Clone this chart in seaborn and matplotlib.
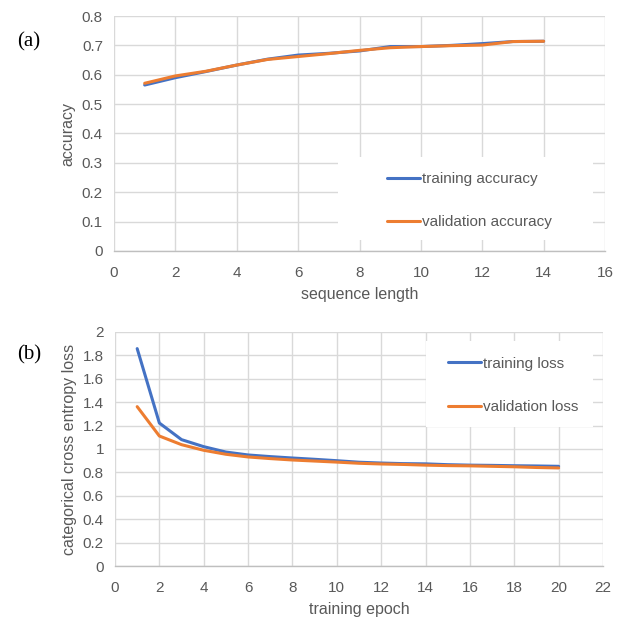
import matplotlib
matplotlib.use("Agg")
import matplotlib.pyplot as plt
from matplotlib.patches import Rectangle
from matplotlib.lines import Line2D
import seaborn as sns
import pandas as pd

seq_len = list(range(1, 15))
train_acc = [0.565, 0.590, 0.611, 0.633, 0.653, 0.667, 0.673, 0.681, 0.696, 0.696, 0.700, 0.706, 0.713, 0.714]
val_acc = [0.571, 0.596, 0.612, 0.633, 0.652, 0.662, 0.672, 0.683, 0.692, 0.696, 0.699, 0.701, 0.713, 0.714]

epochs = list(range(1, 21))
train_loss = [1.858, 1.222, 1.080, 1.020, 0.974, 0.949, 0.935, 0.923, 0.912, 0.900,
              0.887, 0.880, 0.875, 0.873, 0.866, 0.862, 0.860, 0.857, 0.855, 0.852]
val_loss = [1.362, 1.111, 1.037, 0.989, 0.955, 0.932, 0.918, 0.906, 0.897, 0.888,
            0.878, 0.872, 0.868, 0.862, 0.858, 0.856, 0.852, 0.848, 0.842, 0.838]

acc_labels = ["training accuracy", "validation accuracy"]
loss_labels = ["training loss", "validation loss"]

BLUE = "#4472C4"
ORANGE = "#ED7D31"
GRID = "#D9D9D9"
TXT = "#595959"

sns.set_style("white")
plt.rcParams["font.family"] = ["Liberation Sans", "DejaVu Sans"]

df_acc = pd.DataFrame({
    "x": seq_len * 2,
    "y": train_acc + val_acc,
    "series": [acc_labels[0]] * len(seq_len) + [acc_labels[1]] * len(seq_len),
})
df_loss = pd.DataFrame({
    "x": epochs * 2,
    "y": train_loss + val_loss,
    "series": [loss_labels[0]] * len(epochs) + [loss_labels[1]] * len(epochs),
})

fig = plt.figure(figsize=(6.41, 6.17), dpi=100)
ax1 = fig.add_axes([114 / 641, 1 - 251 / 617, 491 / 641, 235 / 617])
ax2 = fig.add_axes([115 / 641, 1 - 566 / 617, 488 / 641, 234 / 617])


def fmt(v):
    return "0" if v == 0 else f"{v:g}"


def style(ax, xmax, xstep, ymax, ystep, xlabel, ylabel):
    ax.set_xlim(0, xmax)
    ax.set_ylim(0, ymax)
    ax.set_xticks(list(range(0, xmax + 1, xstep)))
    n = int(round(ymax / ystep))
    yt = [round(i * ystep, 2) for i in range(n + 1)]
    ax.set_yticks(yt)
    ax.set_yticklabels([fmt(v) for v in yt])
    ax.grid(True, color=GRID, linewidth=1.0, zorder=0)
    ax.set_axisbelow(True)
    for s in ["top", "right", "left"]:
        ax.spines[s].set_visible(False)
    ax.spines["bottom"].set_color("#BFBFBF")
    ax.spines["bottom"].set_linewidth(1.0)
    ax.tick_params(axis="both", length=0, labelsize=11, colors=TXT)
    ax.tick_params(axis="x", pad=10.5)
    ax.tick_params(axis="y", pad=8)
    ax.set_xlabel(xlabel, fontsize=11.5, color=TXT, labelpad=5)
    ax.set_ylabel(ylabel, fontsize=11.5, color=TXT, labelpad=4.5)


sns.lineplot(data=df_acc, x="x", y="y", hue="series", palette=[BLUE, ORANGE],
             linewidth=2.2, ax=ax1, legend=False, zorder=3)
sns.lineplot(data=df_loss, x="x", y="y", hue="series", palette=[BLUE, ORANGE],
             linewidth=2.2, ax=ax2, legend=False, zorder=3)

style(ax1, 16, 2, 0.8, 0.1, "sequence length", "accuracy")
style(ax2, 22, 2, 2.0, 0.2, "training epoch", "categorical cross entropy loss")

# white legend backgrounds
ax1.add_patch(Rectangle((0.456, 0.047), 0.52, 0.353, transform=ax1.transAxes,
                        facecolor="white", edgecolor="none", zorder=1))
ax2.add_patch(Rectangle((0.637, 0.593), 0.342, 0.37, transform=ax2.transAxes,
                        facecolor="white", edgecolor="none", zorder=1))

h1 = [Line2D([], [], color=BLUE, lw=2.2), Line2D([], [], color=ORANGE, lw=2.2)]
ax1.legend(h1, acc_labels, loc="upper left", bbox_to_anchor=(0.556, 0.335),
           frameon=False, borderpad=0, borderaxespad=0, handlelength=2.15,
           handletextpad=0.15, labelspacing=1.88, fontsize=11, labelcolor=TXT)
ax2.legend(h1, loss_labels, loc="upper left", bbox_to_anchor=(0.682, 0.895),
           frameon=False, borderpad=0, borderaxespad=0, handlelength=2.15,
           handletextpad=0.15, labelspacing=1.95, fontsize=11, labelcolor=TXT)

fig.text(17 / 641, 1 - 42 / 617, "(a)", fontsize=15, family=["Liberation Serif"],
         ha="left", va="center", color="black")
fig.text(17 / 641, 1 - 355 / 617, "(b)", fontsize=15, family=["Liberation Serif"],
         ha="left", va="center", color="black")

fig.savefig("out.png", dpi=100, facecolor="white")
